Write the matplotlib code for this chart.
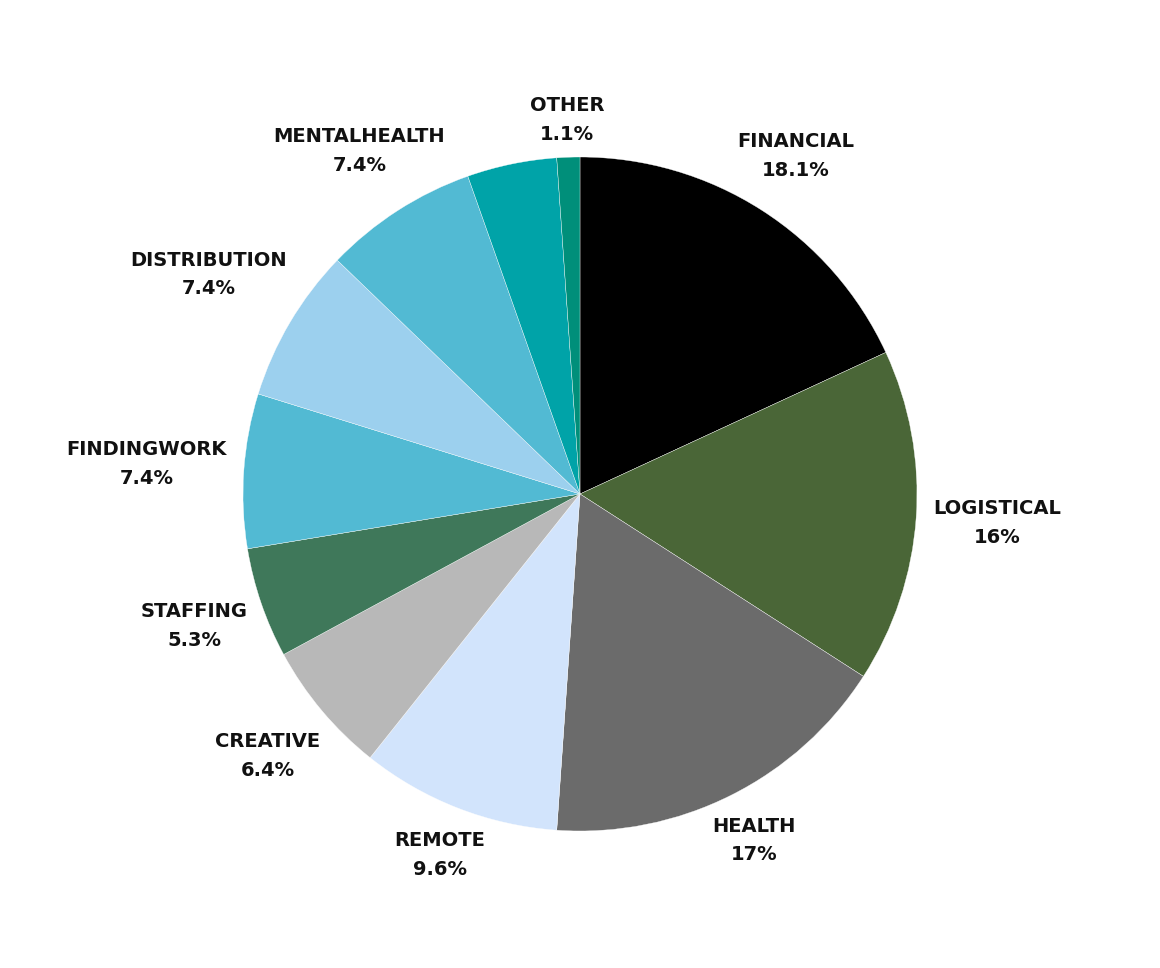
import numpy as np
import matplotlib
matplotlib.use("Agg")
import matplotlib.pyplot as plt

# data (clockwise from 12 o'clock)
categories = ["FINANCIAL", "LOGISTICAL", "HEALTH", "REMOTE", "CREATIVE", "STAFFING",
              "FINDINGWORK", "DISTRIBUTION", "MENTALHEALTH", "", "OTHER"]
shares = [18.1, 16, 17, 9.6, 6.4, 5.3, 7.4, 7.4, 7.4, 4.3, 1.1]
pct_labels = ["18.1%", "16%", "17%", "9.6%", "6.4%", "5.3%", "7.4%", "7.4%", "7.4%", "", "1.1%"]

# style
colors = ["#000000", "#4a6637", "#6b6b6b", "#d2e4fc", "#b8b8b8", "#3f785a",
          "#52bad3", "#9cd0ee", "#52bad3", "#00a3a8", "#008f7a"]
label_dist = [1.19, 1.24, 1.15, 1.15, 1.21, 1.21, 1.29, 1.28, 1.21, 1.2, 1.11]

W, H = 1160, 968
R_PX = 337
CX, CY = 580, 494

fig = plt.figure(figsize=(W / 100, H / 100), dpi=100)
ax = fig.add_axes([0, 0, 1, 1])

wedges, _ = ax.pie(shares, colors=colors, startangle=90, counterclock=False,
                   wedgeprops=dict(edgecolor="white", linewidth=0.25))

for w, name, pct, d in zip(wedges, categories, pct_labels, label_dist):
    if not name:
        continue
    mid = np.deg2rad((w.theta1 + w.theta2) / 2)
    ax.text(d * np.cos(mid), d * np.sin(mid), f"{name}\n{pct}",
            ha="center", va="center", fontsize=14, fontfamily="DejaVu Sans",
            fontweight="semibold", color="#111111", linespacing=1.65)

ax.set_xlim(-CX / R_PX, (W - CX) / R_PX)
ax.set_ylim(-(H - CY) / R_PX, CY / R_PX)
ax.set_aspect("auto")
ax.axis("off")

fig.savefig("out.png", dpi=100, facecolor="white")
